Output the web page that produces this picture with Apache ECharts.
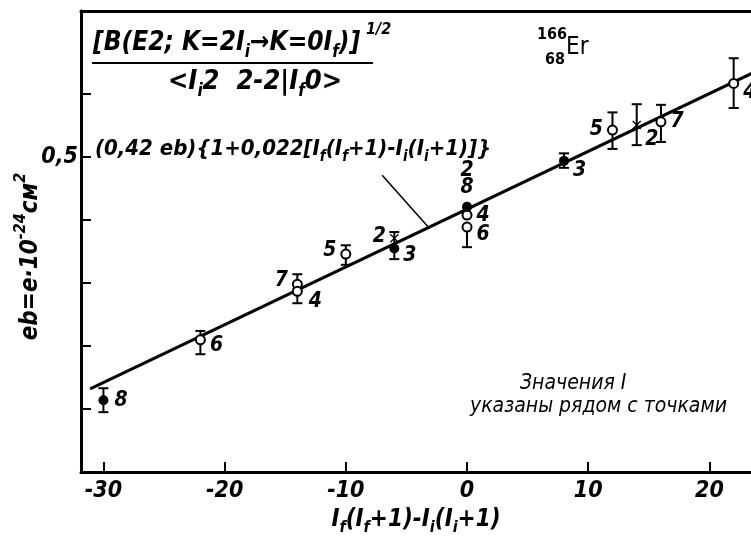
<!DOCTYPE html>
<html>
<head>
<meta charset="utf-8">
<script src="https://cdn.jsdelivr.net/npm/echarts@6/dist/echarts.min.js"></script>
<style>html,body{margin:0;padding:0;background:#fff;}#c{width:751px;height:538px;}</style>
</head>
<body>
<div id="c"></div>
<script>
// ---- data ----
const xTicks = [-30, -20, -10, 0, 10, 20];
const yTicks = [0.1, 0.2, 0.3, 0.4, 0.5, 0.6];
const yLabelTicks = [0.5];

const openPts = [[-22, 0.210], [-14, 0.298], [-14, 0.287], [-10, 0.346], [0, 0.408], [0, 0.389], [12, 0.543], [16, 0.556], [22, 0.617]];
const openLabels = ['6', '7', '4', '5', '4', '6', '5', '7', '4'];
const filledPts = [[-30, 0.114], [-6, 0.355], [0, 0.421], [8, 0.494]];
const filledLabels = ['8', '3', '8', '3'];
const crossPts = [[-6, 0.371], [14, 0.551]];
const crossLabels = ['2', '2'];
const unmarkedPts = [[0, 0.478]];
const unmarkedLabels = ['2'];

// error bars: x, low, high
const errX = [-30, -22, -14, -10, -6, 0, 8, 12, 14, 16, 22];
const errLow = [0.095, 0.187, 0.268, 0.329, 0.338, 0.357, 0.483, 0.513, 0.519, 0.524, 0.578];
const errHigh = [0.133, 0.224, 0.314, 0.360, 0.381, 0.389, 0.506, 0.571, 0.584, 0.583, 0.657];

// fitted line endpoints and callout
const fitLine = [[-31.1, 0.132], [23.5, 0.633]];
const callout = [[-7.0, 0.471], [-3.2, 0.389]];

// ---- styles ----
const FF = '"DejaVu Sans Condensed", "DejaVu Sans", sans-serif';
const openPos = [['right', [0, 6]], ['left', [0, -4]], ['right', [2, 10]], ['left', [0, -4]], ['right', [0, 0]], ['right', [0, 8]], ['left', [0, 0]], ['right', [0, 0]], ['right', [0, 9]]];
const filledPos = [['right', [2, 0]], ['right', [0, 7]], ['top', [0, 0]], ['right', [0, 10]]];
const crossPos = [['left', [0, -2]], ['right', [0, 15]]];

const labelBase = { show: true, color: '#000', opacity: 1, textBorderWidth: 0, fontFamily: FF, fontStyle: 'italic', fontWeight: 'bold', fontSize: 21, distance: 4 };
function items(pts, labels, pos) {
  return pts.map((p, i) => ({
    value: p,
    label: Object.assign({}, labelBase, { formatter: labels[i], position: pos ? pos[i][0] : 'inside', offset: pos ? pos[i][1] : [0, 0] })
  }));
}

const chart = echarts.init(document.getElementById('c'), null, { renderer: 'canvas' });
const subStyle = { fontSize: 15, verticalAlign: 'bottom', padding: [0, 0, -4, 0] };

chart.setOption({
  backgroundColor: '#fff',
  animation: false,
  grid: { left: 81, right: 0, top: 11, bottom: 66, containLabel: false, outerBoundsMode: 'none' },
  xAxis: [{
    type: 'value', min: -31.85, max: 23.43,
    axisLine: { show: true, onZero: false, lineStyle: { color: '#000', width: 3 } },
    axisTick: { show: true, inside: true, length: 10, customValues: xTicks, lineStyle: { color: '#000', width: 2 } },
    axisLabel: { customValues: xTicks, color: '#000', fontFamily: FF, fontStyle: 'italic', fontWeight: 'bold', fontSize: 23, margin: 8 },
    splitLine: { show: false },
    name: 'I{s|f}(I{s|f}+1)-I{s|i}(I{s|i}+1)',
    nameLocation: 'middle', nameGap: 36, nameMoveOverlap: false,
    nameTextStyle: { color: '#000', fontFamily: FF, fontStyle: 'italic', fontWeight: 'bold', fontSize: 24, rich: { s: Object.assign({}, subStyle, { fontFamily: FF, fontStyle: 'italic', fontWeight: 'bold', fontSize: 16 }) } }
  }, {
    type: 'value', position: 'top', min: -31.85, max: 23.43,
    axisLine: { show: true, onZero: false, lineStyle: { color: '#000', width: 3 } },
    axisTick: { show: false }, axisLabel: { show: false }, splitLine: { show: false }
  }],
  yAxis: {
    type: 'value', min: 0, max: 0.732,
    axisLine: { show: true, onZero: false, lineStyle: { color: '#000', width: 3 } },
    axisTick: { show: true, inside: true, length: 10, customValues: yTicks, lineStyle: { color: '#000', width: 2 } },
    axisLabel: { customValues: yLabelTicks, formatter: v => String(v).replace('.', ','), color: '#000', fontFamily: FF, fontStyle: 'italic', fontWeight: 'bold', fontSize: 23, margin: 3 },
    splitLine: { show: false },
    name: 'eb=e·10{p|-24}см{p|2}',
    nameLocation: 'middle', nameGap: 38, nameRotate: 90, nameMoveOverlap: false,
    nameTextStyle: { color: '#000', fontFamily: FF, fontStyle: 'italic', fontWeight: 'bold', fontSize: 24, padding: [0, 30, 0, 0], rich: { p: { fontFamily: FF, fontStyle: 'italic', fontWeight: 'bold', fontSize: 16, verticalAlign: 'top', padding: [-6, 0, 0, 0] } } }
  },
  series: [
    { type: 'line', data: fitLine, symbol: 'none', lineStyle: { color: '#000', width: 3 }, z: 2 },
    { type: 'line', data: callout, symbol: 'none', lineStyle: { color: '#000', width: 1.5 }, z: 2 },
    {
      type: 'custom', z: 3,
      data: errX.map((x, i) => [x, errLow[i], errHigh[i]]),
      renderItem: function (params, api) {
        const x = api.value(0), lo = api.value(1), hi = api.value(2);
        const a = api.coord([x, lo]), b = api.coord([x, hi]);
        const w = 5, st = { stroke: '#000', lineWidth: 2 };
        return { type: 'group', children: [
          { type: 'line', shape: { x1: a[0], y1: a[1], x2: b[0], y2: b[1] }, style: st },
          { type: 'line', shape: { x1: a[0] - w, y1: a[1], x2: a[0] + w, y2: a[1] }, style: st },
          { type: 'line', shape: { x1: b[0] - w, y1: b[1], x2: b[0] + w, y2: b[1] }, style: st }
        ] };
      }
    },
    { type: 'scatter', z: 5, symbol: 'circle', symbolSize: 9, label: { color: '#000' }, itemStyle: { color: '#fff', borderColor: '#000', borderWidth: 2, opacity: 1 }, data: items(openPts, openLabels, openPos) },
    { type: 'scatter', z: 5, symbol: 'circle', symbolSize: 10, label: { color: '#000' }, itemStyle: { color: '#000', opacity: 1 }, data: items(filledPts, filledLabels, filledPos) },
    { type: 'scatter', z: 5, symbol: 'path://M0,1L1,0L5,4L9,0L10,1L6,5L10,9L9,10L5,6L1,10L0,9L4,5Z', symbolSize: 9, label: { color: '#000' }, itemStyle: { color: '#000', opacity: 1 }, data: items(crossPts, crossLabels, crossPos) },
    { type: 'scatter', z: 5, symbol: 'circle', symbolSize: 1, label: { color: '#000' }, itemStyle: { color: 'rgba(0,0,0,0)' }, data: items(unmarkedPts, unmarkedLabels, null) }
  ],
  graphic: [
    { type: 'text', x: 93, y: 30, style: { text: '[B(E2; K=2I{s|i}→K=0I{s|f})]', fill: '#000', font: 'italic bold 26px ' + FF, rich: { s: { fontFamily: FF, fontStyle: 'italic', fontWeight: 'bold', fontSize: 17, verticalAlign: 'bottom', padding: [0, 0, -5, 0] } } } },
    { type: 'text', x: 366, y: 22, style: { text: '1/2', fill: '#000', font: 'italic bold 16px ' + FF } },
    { type: 'line', shape: { x1: 92, y1: 63, x2: 373, y2: 63 }, style: { stroke: '#000', lineWidth: 2 } },
    { type: 'text', x: 168, y: 68, style: { text: '<I{s|i}2  2-2|I{s|f}0>', fill: '#000', font: 'italic bold 27px ' + FF, rich: { s: { fontFamily: FF, fontStyle: 'italic', fontWeight: 'bold', fontSize: 17, verticalAlign: 'bottom', padding: [0, 0, -5, 0] } } } },
    { type: 'text', x: 95, y: 138, style: { text: '(0,42 eb){1+0,022[I{s|f}(I{s|f}+1)-I{s|i}(I{s|i}+1)]}', fill: '#000', font: 'italic bold 22px ' + FF, rich: { s: { fontFamily: FF, fontStyle: 'italic', fontWeight: 'bold', fontSize: 15, verticalAlign: 'bottom', padding: [0, 0, -5, 0] } } } },
    { type: 'text', x: 537, y: 27, style: { text: '166', fill: '#000', font: 'bold 16px ' + FF } },
    { type: 'text', x: 545, y: 52, style: { text: '68', fill: '#000', font: 'bold 16px ' + FF } },
    { type: 'text', x: 566, y: 36, style: { text: 'Er', fill: '#000', font: '24px ' + FF } },
    { type: 'text', x: 520, y: 373, style: { text: 'Значения I', fill: '#000', font: 'italic 21px ' + FF } },
    { type: 'text', x: 470, y: 396, style: { text: 'указаны рядом с точками', fill: '#000', font: 'italic 21px ' + FF } }
  ]
});
</script>
</body>
</html>
